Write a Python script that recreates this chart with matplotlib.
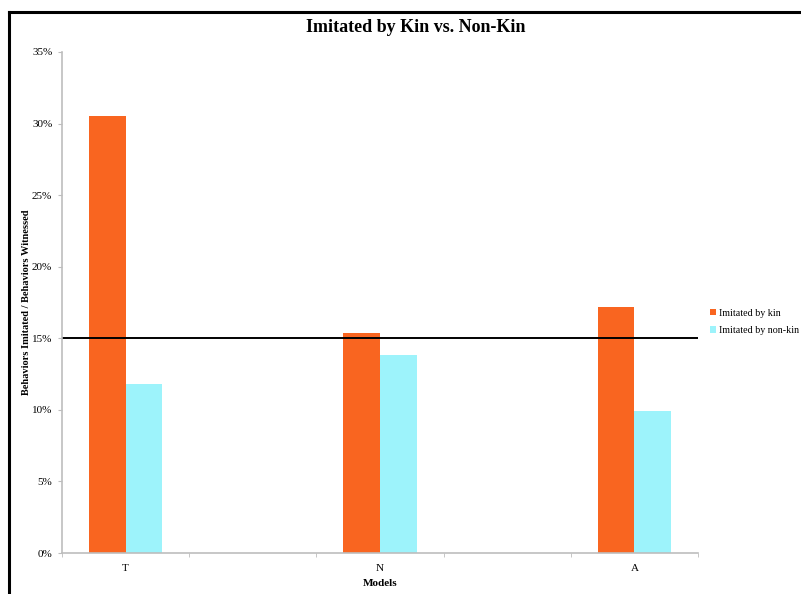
# Kin vs non-kin imitation rates per model, with the 15% reference level

import matplotlib.pyplot as plt
import numpy as np
from matplotlib.lines import Line2D
from matplotlib.ticker import FuncFormatter

models = ['T', 'N', 'A']
kin_rate = [30.5, 15.4, 17.2]
nonkin_rate = [11.8, 13.8, 9.9]
baseline = 15.0

ORANGE = '#F96520'
CYAN = '#9DF3FB'
AXIS_GRAY = '#BDBDBD'

plt.rcParams['font.family'] = ['Liberation Serif', 'DejaVu Serif']

fig = plt.figure(figsize=(8.01, 5.94), dpi=100)
ax = fig.add_axes([0.0774, 0.069, 0.794, 0.8435])

x = np.arange(len(models))
width = 0.145
ax.bar(x - width / 2, kin_rate, width, color=ORANGE, label='Imitated by kin')
ax.bar(x + width / 2, nonkin_rate, width, color=CYAN, label='Imitated by non-kin')
ax.axhline(baseline, color='black', linewidth=1.4)

ax.set_xlim(-0.25, 2.25)
ax.set_ylim(0, 35)
ax.set_yticks(range(0, 36, 5))
ax.yaxis.set_major_formatter(FuncFormatter(lambda v, _: f'{v:.0f}%'))
ax.set_xticks(x)
ax.set_xticklabels(models)
ax.set_xticks(np.arange(-0.25, 2.26, 0.5), minor=True)
ax.tick_params(axis='x', which='major', length=0, labelsize=8, pad=8)
ax.tick_params(axis='x', which='minor', length=3, color=AXIS_GRAY)
ax.tick_params(axis='y', length=3, color=AXIS_GRAY, labelsize=8, pad=4)

for side in ('top', 'right'):
    ax.spines[side].set_visible(False)
for side in ('left', 'bottom'):
    ax.spines[side].set_color(AXIS_GRAY)
    ax.spines[side].set_linewidth(1.2)

ax.set_xlabel('Models', fontsize=8, fontweight='bold', labelpad=4)
ax.set_ylabel('Behaviors Imitated / Behaviors Witnessed', fontsize=7.5,
              fontweight='bold')
ax.yaxis.set_label_coords(-0.048, 0.5)
fig.suptitle('Imitated by Kin vs. Non-Kin', x=0.519, y=0.968,
             fontsize=13, fontweight='bold')

ax.legend(loc='center left', bbox_to_anchor=(0.887, 0.458),
          bbox_transform=fig.transFigure, frameon=False, fontsize=7.2,
          handlelength=0.6, handleheight=0.6, handletextpad=0.3,
          labelspacing=0.85, borderpad=0, borderaxespad=0)

# black frame along the top and left edges
fig.add_artist(Line2D([9 / 801, 9 / 801], [0, 1 - 12 / 594],
                      transform=fig.transFigure, color='black', linewidth=2.2))
fig.add_artist(Line2D([9 / 801, 1], [1 - 12 / 594, 1 - 12 / 594],
                      transform=fig.transFigure, color='black', linewidth=2.2))

fig.savefig('out.png', dpi=100)
